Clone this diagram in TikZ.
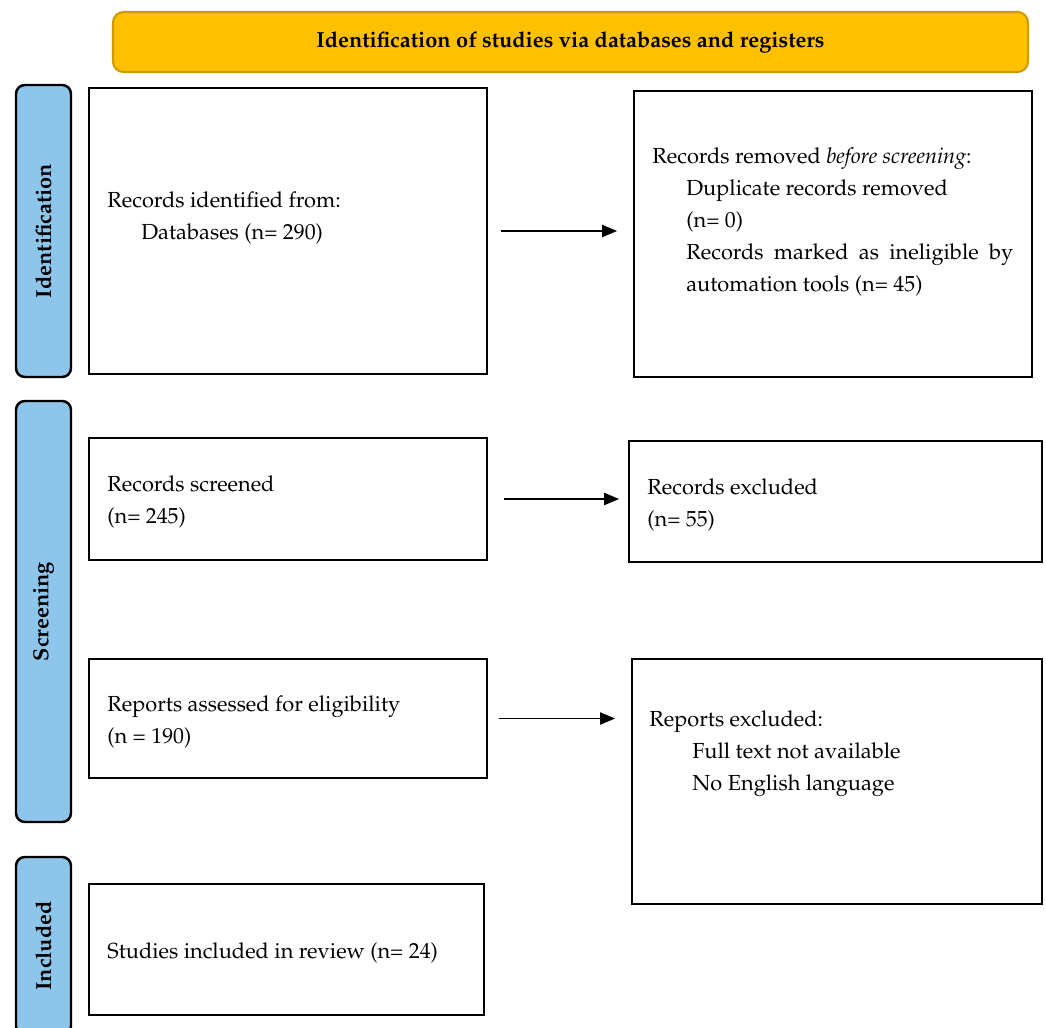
\documentclass[tikz,border=0pt]{standalone}
\usepackage[T1]{fontenc}
\usepackage{mathpazo}
\usetikzlibrary{arrows.meta,fit}
\definecolor{bannergold}{HTML}{FFC000}
\definecolor{bannerline}{HTML}{D09A00}
\definecolor{stageblue}{HTML}{8EC5EA}
\tikzset{
  box/.style={draw, line width=1.1pt, inner sep=0pt},
  stage/.style={draw, line width=1.4pt, fill=stageblue, rounded corners=5pt, inner sep=0pt},
  stagetxt/.style={rotate=90, font=\bfseries\fontsize{12.4}{14}\selectfont},
  txt/.style={anchor=north west, inner sep=0pt, align=left, font=\fontsize{12.4}{18.3}\selectfont},
  arr/.style={->, line width=0.6pt},
}
\begin{document}
\begin{tikzpicture}[x=0.02cm, y=-0.02cm, >={Triangle[length=8.5pt,width=7pt]}]
\useasboundingbox (0,0) rectangle (1046,1028);
% banner
\coordinate (b1) at (113,12); \coordinate (b2) at (1028,72);
\node[fit=(b1)(b2), draw=bannerline, line width=1.2pt, fill=bannergold, rounded corners=6pt, inner sep=0pt] (banner) {};
\node[font=\bfseries\fontsize{12.4}{14}\selectfont] (bannertxt) at (banner.center) {Identification of studies via databases and registers};

% stages on the left
\coordinate (s1) at (16,85);  \coordinate (s2) at (71,377);
\coordinate (s3) at (16,401); \coordinate (s4) at (71,822);
\coordinate (s5) at (16,857); \coordinate (s6) at (71,1035);
\node[stage, fit=(s1)(s2)] (idstage) {};
\node[stage, fit=(s3)(s4)] (scstage) {};
\node[stage, fit=(s5)(s6)] (instage) {};
\node[stagetxt] (idlabel) at (idstage.center) {Identification};
\node[stagetxt] (sclabel) at (scstage.center) {Screening};
\node[stagetxt] (inlabel) at (instage.center) {Included};

% boxes
\coordinate (a1) at (89,88);   \coordinate (a2) at (487,374);
\coordinate (a3) at (634,91);  \coordinate (a4) at (1032,377);
\coordinate (a5) at (89,438);  \coordinate (a6) at (487,560);
\coordinate (a7) at (629,441); \coordinate (a8) at (1042,562);
\coordinate (a9) at (89,659);  \coordinate (a10) at (487,778);
\coordinate (a11) at (632,659); \coordinate (a12) at (1042,904);
\coordinate (a13) at (89,884); \coordinate (a14) at (484,1015);
\node[box, fit=(a1)(a2)] (idbox) {};
\node[box, fit=(a3)(a4)] (rmbox) {};
\node[box, fit=(a5)(a6)] (scbox) {};
\node[box, fit=(a7)(a8)] (exbox) {};
\node[box, fit=(a9)(a10)] (asbox) {};
\node[box, fit=(a11)(a12)] (rxbox) {};
\node[box, fit=(a13)(a14)] (inbox) {};

% texts
\node[txt] (idtxt) at (107,191) {Records identified from:\\\hspace*{0.68cm}Databases (n= 290)};
\node[txt] (rmtxt) at (652,147)
  {Records removed \emph{before screening}:\\\hspace*{0.68cm}\begin{minipage}[t]{6.54cm}\hyphenpenalty=10000
   Duplicate records removed\\(n= 0)\\Records marked as ineligible by automation tools (n= 45)\end{minipage}};
\node[txt] (sctxt) at (107,475) {Records screened\\(n= 245)};
\node[txt] (extxt) at (647,478) {Records excluded\\(n= 55)};
\node[txt] (astxt) at (107,695) {Reports assessed for eligibility\\(n = 190)};
\node[txt] (rxtxt) at (649,710) {Reports excluded:\\\hspace*{0.86cm}Full text not available\\\hspace*{0.86cm}No English language};
\node[txt] (intxt) at (107,942) {Studies included in review (n= 24)};

% arrows
\draw[arr, shorten <=0.26cm, shorten >=0.32cm] (idbox.east) -- (idbox.east -| rmbox.west);
\draw[arr, shorten <=0.32cm, shorten >=0.18cm] (scbox.east) -- (scbox.east -| exbox.west);
\draw[arr, shorten <=0.22cm, shorten >=0.32cm] (asbox.east) -- (asbox.east -| rxbox.west);
\end{tikzpicture}
\end{document}
